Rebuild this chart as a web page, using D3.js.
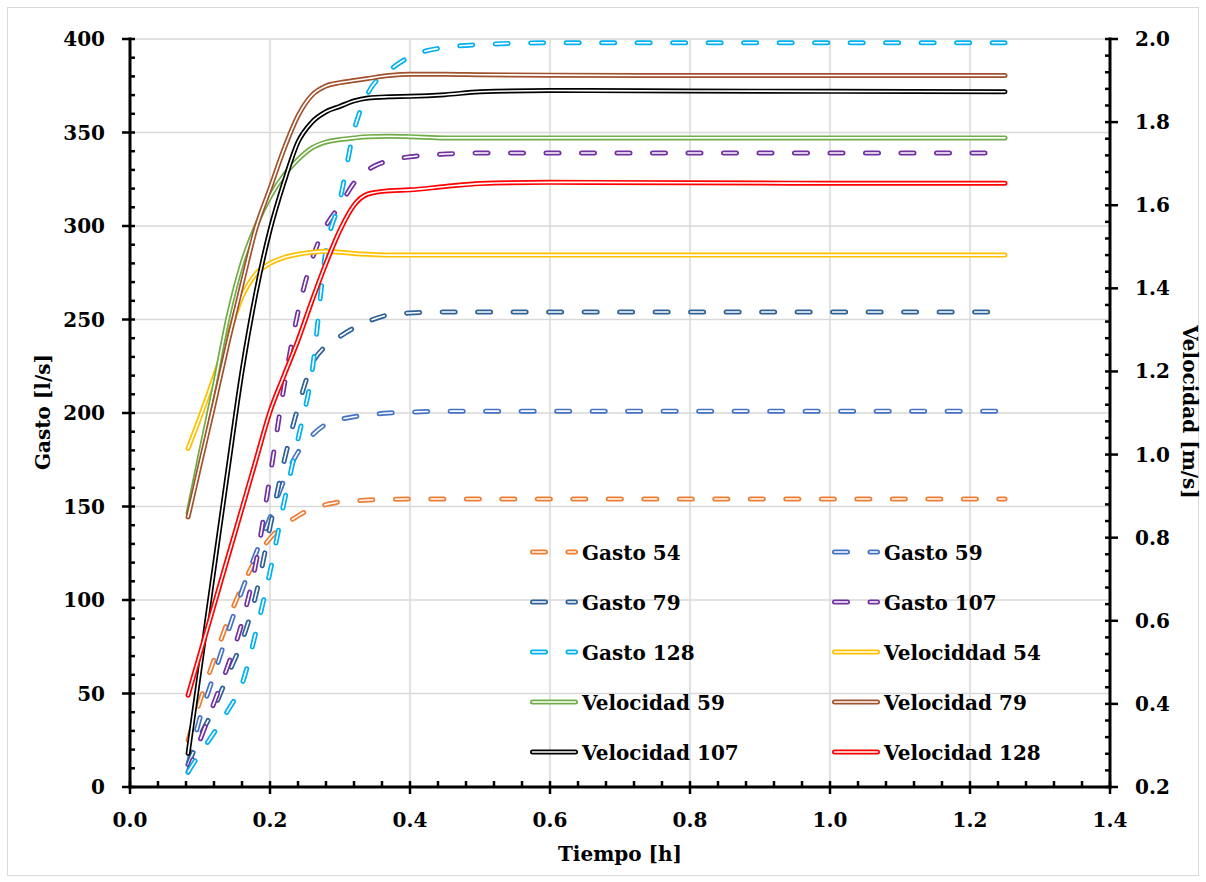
<!DOCTYPE html>
<html><head><meta charset="utf-8">
<script src="https://cdn.jsdelivr.net/npm/d3@7"></script>
<style>
body{margin:0;background:#fff}
text{font-family:"DejaVu Serif",serif;font-weight:bold;fill:#000}
</style>
</head><body>
<svg id="c" width="1206" height="882"></svg>
<script>
// ---- data ----
const tiempo = [0.083,0.1,0.12,0.14,0.16,0.18,0.2,0.22,0.24,0.26,0.28,0.3,0.32,0.34,0.37,0.4,0.45,0.5,0.6,0.8,1.0,1.25];
const gasto54  = [25,46,68,89,107,122,133,140,145,149,151,152.5,153,153.5,153.8,154,154,154,154,154,154,154];
const gasto59  = [12,37,60,83,105,125,144,164,179,188,194,196.5,198,199,200,200.5,201,201,201,201,201,201];
const gasto79  = [12,27,42,60,78,103,139,174,203,226,236,241,245.5,249,252.5,253.5,254,254,254,254,254,254];
const gasto107 = [8,25,45,65,88,120,166,214,254,282,300,311,323,330,335,337,338.5,339,339,339,339,339];
const gasto128 = [8,18,29,41,55,83,115,152,186,222,287,314,351,371,383,390.5,395.5,397,398,398,398,398];
const velocidad54  = [1.015,1.09,1.185,1.285,1.38,1.435,1.46,1.474,1.482,1.487,1.489,1.487,1.484,1.482,1.48,1.48,1.48,1.48,1.48,1.48,1.48,1.48];
const velocidad59  = [0.859,1.0,1.16,1.33,1.46,1.55,1.62,1.672,1.71,1.738,1.752,1.758,1.762,1.765,1.766,1.765,1.762,1.762,1.762,1.762,1.762,1.762];
const velocidad79  = [0.85,0.975,1.12,1.27,1.41,1.545,1.64,1.735,1.815,1.865,1.887,1.895,1.9,1.905,1.912,1.915,1.915,1.914,1.913,1.912,1.912,1.912];
const velocidad107 = [0.281,0.485,0.725,0.965,1.2,1.39,1.54,1.655,1.752,1.8,1.825,1.838,1.851,1.858,1.861,1.862,1.866,1.873,1.876,1.875,1.874,1.873];
const velocidad128 = [0.421,0.52,0.637,0.754,0.87,0.987,1.103,1.19,1.275,1.37,1.46,1.54,1.6,1.627,1.635,1.637,1.645,1.652,1.655,1.654,1.653,1.653];

const xTicks = [0,0.2,0.4,0.6,0.8,1.0,1.2,1.4];
const gastoTicks = [0,50,100,150,200,250,300,350,400];
const velTicks = [0.2,0.4,0.6,0.8,1.0,1.2,1.4,1.6,1.8,2.0];

const seriesNames = ["Gasto 54","Gasto 59","Gasto 79","Gasto 107","Gasto 128",
                     "Velociddad 54","Velocidad 59","Velocidad 79","Velocidad 107","Velocidad 128"];
const seriesColors = ["#ED7D31","#4472C4","#2E6195","#7030A0","#00B0F0",
                      "#FFC000","#70AD47","#A0522D","#000000","#FF0000"];
const seriesData = [gasto54,gasto59,gasto79,gasto107,gasto128,
                    velocidad54,velocidad59,velocidad79,velocidad107,velocidad128];

// ---- layout ----
const svg = d3.select("#c");
const L = 130, R = 1110, T = 39, B = 787;
const x = d3.scaleLinear().domain([0,1.4]).range([L,R]);
const yL = d3.scaleLinear().domain([0,400]).range([B,T]);
const yR = d3.scaleLinear().domain([0.2,2.0]).range([B,T]);

svg.append("rect").attr("x",7.5).attr("y",7.5).attr("width",1191).attr("height",868)
  .attr("fill","#fff").attr("stroke","#d9d9d9").attr("stroke-width",1);

// grid
const grid = svg.append("g").attr("stroke","#d9d9d9").attr("stroke-width",1.5);
gastoTicks.filter(d=>d>0).forEach(d=>{
  grid.append("line").attr("x1",L).attr("x2",R).attr("y1",yL(d)).attr("y2",yL(d));
});
xTicks.filter(d=>d>0 && d<1.4).forEach(d=>{
  grid.append("line").attr("x1",x(d)).attr("x2",x(d)).attr("y1",T).attr("y2",B);
});

// series
const DASH = "13 22.5";
seriesData.forEach((vals,i)=>{
  const isG = i < 5;
  const ys = isG ? yL : yR;
  const line = d3.line().x((d,j)=>x(tiempo[j])).y(d=>ys(d)).curve(d3.curveMonotoneX);
  const dstr = line(vals);
  const g = svg.append("g");
  const outer = g.append("path").attr("d",dstr).attr("fill","none")
    .attr("stroke",seriesColors[i]).attr("stroke-width",5)
    .attr("stroke-linecap","round").attr("stroke-linejoin","round");
  const inner = g.append("path").attr("d",dstr).attr("fill","none")
    .attr("stroke","#fff").attr("stroke-width",1.6)
    .attr("stroke-linecap","round").attr("stroke-linejoin","round");
  if (isG) { outer.attr("stroke-dasharray",DASH); inner.attr("stroke-dasharray",DASH); }
});

// axes
const ax = svg.append("g").attr("stroke","#000");
// left
ax.append("line").attr("x1",L).attr("x2",L).attr("y1",T-1.5).attr("y2",B+1.5).attr("stroke-width",3);
d3.range(0,401,10).forEach(d=>{
  const major = d%50===0;
  ax.append("line").attr("x1",major?L-8:L).attr("x2",L+5).attr("y1",yL(d)).attr("y2",yL(d)).attr("stroke-width",2.5);
});
// bottom
ax.append("line").attr("x1",L-1.5).attr("x2",R+1.5).attr("y1",B).attr("y2",B).attr("stroke-width",3);
d3.range(0,36).forEach(k=>{
  const d = k*0.04;
  const major = k%5===0;
  ax.append("line").attr("x1",x(d)).attr("x2",x(d)).attr("y1",B-6).attr("y2",major?B+7:B).attr("stroke-width",2.5);
});
// right
ax.append("line").attr("x1",R).attr("x2",R).attr("y1",T-1.5).attr("y2",B+1.5).attr("stroke-width",3);
d3.range(0,46).forEach(k=>{
  const d = 0.2 + k*0.04;
  const major = k%5===0;
  ax.append("line").attr("x1",R-5).attr("x2",major?R+8:R).attr("y1",yR(d)).attr("y2",yR(d)).attr("stroke-width",2.5);
});

// tick labels
const fmt1 = d3.format(".1f");
gastoTicks.forEach(d=>{
  svg.append("text").attr("x",105).attr("y",yL(d)+7).attr("text-anchor","end")
    .attr("font-size",20).text(d);
});
xTicks.forEach(d=>{
  svg.append("text").attr("x",x(d)).attr("y",827).attr("text-anchor","middle")
    .attr("font-size",20).text(fmt1(d));
});
velTicks.forEach(d=>{
  svg.append("text").attr("x",1135).attr("y",yR(d)+7).attr("text-anchor","start")
    .attr("font-size",20).text(fmt1(d));
});

// titles
svg.append("text").attr("transform","translate(50,412) rotate(-90)").attr("text-anchor","middle")
  .attr("font-size",20).text("Gasto [l/s]");
svg.append("text").attr("x",620).attr("y",861).attr("text-anchor","middle")
  .attr("font-size",20).text("Tiempo [h]");
svg.append("text").attr("transform","translate(1183,412) rotate(90)").attr("text-anchor","middle")
  .attr("font-size",20).text("Velocidad [m/s]");

// legend
const colX = [530,832], rowY = [552,602,652,702,752];
seriesNames.forEach((name,i)=>{
  const cx = colX[i%2], cy = rowY[Math.floor(i/2)];
  const g = svg.append("g");
  const o = g.append("line").attr("x1",cx+2.5).attr("x2",cx+45.5).attr("y1",cy).attr("y2",cy)
    .attr("stroke",seriesColors[i]).attr("stroke-width",5).attr("stroke-linecap","round");
  const n = g.append("line").attr("x1",cx+2.5).attr("x2",cx+45.5).attr("y1",cy).attr("y2",cy)
    .attr("stroke","#fff").attr("stroke-width",1.6).attr("stroke-linecap","round");
  if (i<5){ o.attr("stroke-dasharray",DASH); n.attr("stroke-dasharray",DASH); }
  g.append("text").attr("x",cx+52).attr("y",cy+7.5).attr("font-size",20).text(name);
});
</script>
</body></html>
